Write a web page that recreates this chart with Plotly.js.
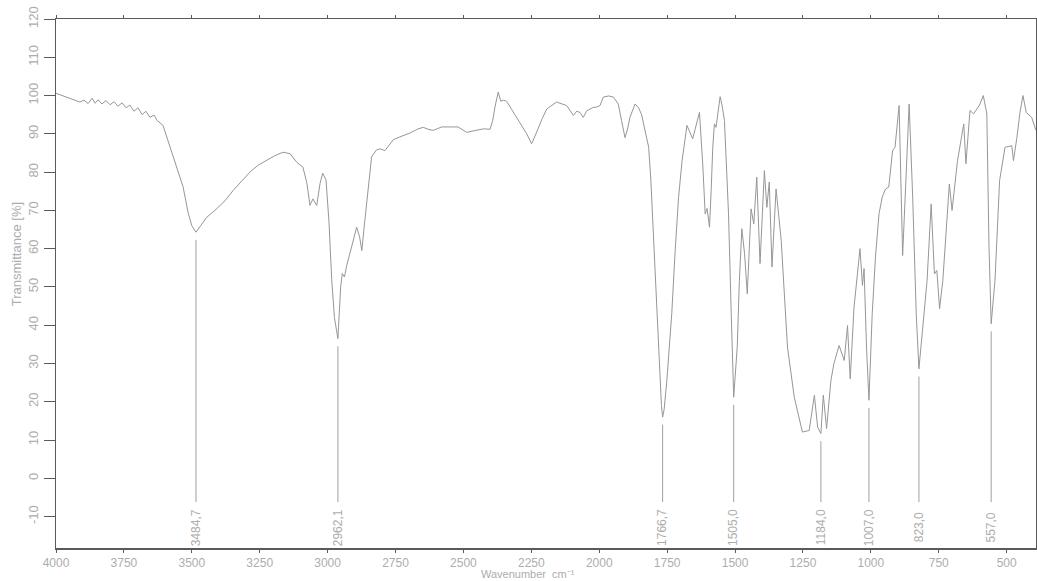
<!DOCTYPE html>
<html>
<head>
<meta charset="utf-8">
<script src="https://cdn.plot.ly/plotly-3.0.1.min.js"></script>
<style>
  html, body { margin: 0; padding: 0; background: #fff; }
  #chart { width: 1037px; height: 581px; }
</style>
</head>
<body>
<div id="chart"></div>
<script>
// Spectrum: wavenumber (cm-1) and transmittance (%)
const wavenumber = [
  4000, 3978, 3948, 3926, 3912, 3897, 3882, 3867, 3856, 3845,
  3831, 3816, 3801, 3786, 3772, 3757, 3742, 3728, 3713, 3698,
  3683, 3669, 3654, 3639, 3628, 3606, 3580, 3558, 3532, 3514,
  3500, 3484.7, 3470, 3445, 3415, 3378, 3348, 3319, 3286, 3256,
  3224, 3194, 3164, 3138, 3114, 3091, 3076, 3065, 3054, 3040,
  3028, 3018, 3006, 2995, 2985, 2975, 2962.1, 2952, 2946, 2938,
  2930, 2918, 2905, 2893, 2882, 2874, 2865, 2856, 2845, 2838,
  2820, 2807, 2789, 2770, 2758, 2730, 2697, 2670, 2648, 2630,
  2611, 2580, 2549, 2520, 2488, 2460, 2427, 2402, 2392, 2384,
  2372, 2362, 2353, 2341, 2320, 2304, 2285, 2267, 2249, 2238,
  2230, 2210, 2193, 2157, 2120, 2095, 2083, 2071, 2059, 2046,
  2022, 2009, 1997, 1985, 1965, 1948, 1930, 1918, 1905, 1895,
  1887, 1868, 1855, 1844, 1830, 1818, 1810, 1802, 1794, 1786,
  1778, 1771, 1766.7, 1761, 1751, 1733, 1720, 1708, 1695, 1689,
  1677, 1656, 1631, 1619, 1610, 1603, 1594, 1588, 1582, 1576,
  1570, 1555, 1548, 1539, 1524, 1514, 1505, 1492, 1484, 1475,
  1465, 1455, 1447, 1441, 1431, 1420, 1408, 1392, 1383, 1374,
  1364, 1349, 1330, 1307, 1282, 1252, 1227, 1208, 1196, 1184,
  1175, 1163, 1147, 1136, 1117, 1098, 1086, 1076, 1062, 1050,
  1040, 1031, 1025, 1016, 1007, 995, 983, 970, 958, 946,
  934, 920, 911, 896, 889, 883, 871, 859, 846, 833,
  823, 808, 793, 778, 766, 757, 747, 735, 711, 701,
  681, 658, 650, 635, 622, 600, 586, 573, 565, 557,
  543, 526, 506, 481, 475, 463, 451, 440, 428, 408,
  392
];
const transmittance = [
  100.6, 100.0, 99.2, 98.6, 98.3, 98.8, 97.9, 99.3, 98.0, 98.9,
  97.8, 98.7, 97.6, 98.4, 97.2, 98.1, 96.8, 97.5, 95.9, 96.8,
  95.0, 95.9, 94.3, 94.9, 93.5, 92.2, 86.5, 82.0, 76.1, 69.5,
  66.0, 64.3, 65.8, 68.2, 70.0, 72.5, 75.2, 77.5, 80.0, 81.8,
  83.2, 84.3, 85.2, 84.8, 82.6, 81.3, 77.0, 71.3, 73.0, 71.3,
  77.0, 79.7, 78.0, 67.0, 52.0, 42.0, 36.5, 50.0, 53.5, 52.6,
  55.5, 58.7, 62.0, 65.6, 63.0, 59.5, 66.0, 72.0, 81.0, 84.0,
  85.8, 86.1, 85.6, 87.5, 88.5, 89.3, 90.2, 91.2, 91.7, 91.2,
  90.9, 91.8, 91.9, 91.8, 90.4, 90.9, 91.3, 91.2, 93.5, 97.0,
  100.9, 98.5, 98.8, 98.5, 96.0, 94.3, 92.0, 90.0, 87.4, 89.0,
  90.5, 94.0, 96.5, 98.3, 97.4, 94.8, 95.9, 95.6, 94.3, 96.0,
  96.9, 97.0, 97.4, 99.6, 99.9, 99.6, 97.8, 93.5, 89.0, 91.5,
  94.3, 97.8, 96.8, 95.0, 90.5, 86.5, 78.0, 66.0, 54.0, 40.0,
  27.0, 19.0, 16.0, 18.0, 25.6, 43.0, 60.0, 73.4, 83.0, 86.5,
  92.2, 88.7, 95.6, 82.2, 69.1, 70.5, 65.6, 75.0, 86.5, 92.6,
  91.7, 99.7, 97.5, 93.5, 69.1, 43.0, 21.2, 34.3, 51.7, 65.2,
  58.7, 48.2, 60.4, 70.4, 66.5, 78.7, 56.1, 80.4, 70.8, 77.4,
  55.2, 75.6, 62.1, 34.3, 21.2, 12.1, 12.5, 21.7, 13.4, 11.7,
  21.7, 13.0, 25.6, 30.0, 34.7, 30.8, 39.9, 26.0, 44.7, 53.4,
  60.0, 50.4, 54.8, 34.3, 20.4, 43.0, 57.8, 69.1, 73.5, 75.6,
  76.1, 85.6, 86.5, 97.4, 77.8, 58.2, 77.8, 97.8, 73.4, 43.0,
  28.6, 39.5, 51.7, 71.7, 53.4, 54.3, 44.3, 51.7, 76.9, 70.0,
  83.0, 92.6, 82.2, 96.1, 95.2, 97.5, 100.0, 95.2, 60.4, 40.4,
  51.7, 77.8, 86.5, 86.9, 83.0, 88.7, 95.6, 100.0, 95.6, 94.3,
  90.9
];

// Marked peaks
const peakWavenumber = [3484.7, 2962.1, 1766.7, 1505.0, 1184.0, 1007.0, 823.0, 557.0];
const peakTransmittance = [64.3, 36.5, 16.0, 21.2, 11.7, 20.4, 28.6, 40.4];
const peakLabels = ["3484,7", "2962,1", "1766,7", "1505,0", "1184,0", "1007,0", "823,0", "557,0"];

const xTickValues = [4000, 3750, 3500, 3250, 3000, 2750, 2500, 2250, 2000, 1750, 1500, 1250, 1000, 750, 500];
const yTickValues = [-10, 0, 10, 20, 30, 40, 50, 60, 70, 80, 90, 100, 110, 120];

const lineGray = '#969696';
const textGray = '#adadad';
const axisGray = '#5a5a5a';
const FONT = 'Liberation Sans, Arial, sans-serif';

const traces = [{
  x: wavenumber, y: transmittance, type: 'scatter', mode: 'lines',
  line: {color: lineGray, width: 1}, hoverinfo: 'skip', showlegend: false
}];

const lineBottom = -6.2;
const gap = 2;
peakWavenumber.forEach((w, i) => {
  traces.push({
    x: [w, w], y: [peakTransmittance[i] - gap, lineBottom], type: 'scatter', mode: 'lines',
    line: {color: '#a0a0a0', width: 1}, hoverinfo: 'skip', showlegend: false
  });
});

const annotations = peakWavenumber.map((w, i) => ({
  x: w, y: -12.8, xref: 'x', yref: 'y', text: peakLabels[i], showarrow: false,
  textangle: -90, font: {family: FONT, size: 12, color: textGray},
  xanchor: 'center', yanchor: 'middle'
}));

annotations.push({
  x: 0.482, y: -0.0625, xref: 'paper', yref: 'paper', text: 'Wavenumber  cm\u207B\u00B9',
  showarrow: false, borderpad: 0, font: {family: FONT, size: 11, color: textGray},
  xanchor: 'center', yanchor: 'bottom'
});
annotations.push({
  x: -0.040, y: 0.555, xref: 'paper', yref: 'paper', text: 'Transmittance [%]',
  showarrow: false, textangle: -90, font: {family: FONT, size: 13, color: textGray},
  xanchor: 'center', yanchor: 'middle'
});

const layout = {
  width: 1037, height: 581,
  margin: {l: 56, r: 1, t: 19, b: 33, pad: 0},
  paper_bgcolor: '#ffffff', plot_bgcolor: '#ffffff',
  showlegend: false,
  xaxis: {
    range: [4000, 392], tickvals: xTickValues, ticktext: xTickValues.map(String),
    ticks: 'outside', ticklen: 3, tickwidth: 1, tickcolor: axisGray,
    showline: true, linecolor: axisGray, linewidth: 1.5, mirror: 'ticks',
    showgrid: false, zeroline: false,
    tickfont: {family: FONT, size: 12, color: textGray}
  },
  yaxis: {
    range: [-18.2, 120], tickvals: yTickValues, ticktext: yTickValues.map(String),
    ticks: 'outside', ticklen: 11, tickwidth: 1, tickcolor: axisGray,
    showline: true, linecolor: axisGray, linewidth: 1.5, mirror: true,
    showgrid: false, zeroline: false, tickangle: -90,
    tickfont: {family: FONT, size: 13, color: textGray}
  },
  annotations: annotations
};

Plotly.newPlot('chart', traces, layout, {staticPlot: true, displayModeBar: false});
</script>
</body>
</html>
